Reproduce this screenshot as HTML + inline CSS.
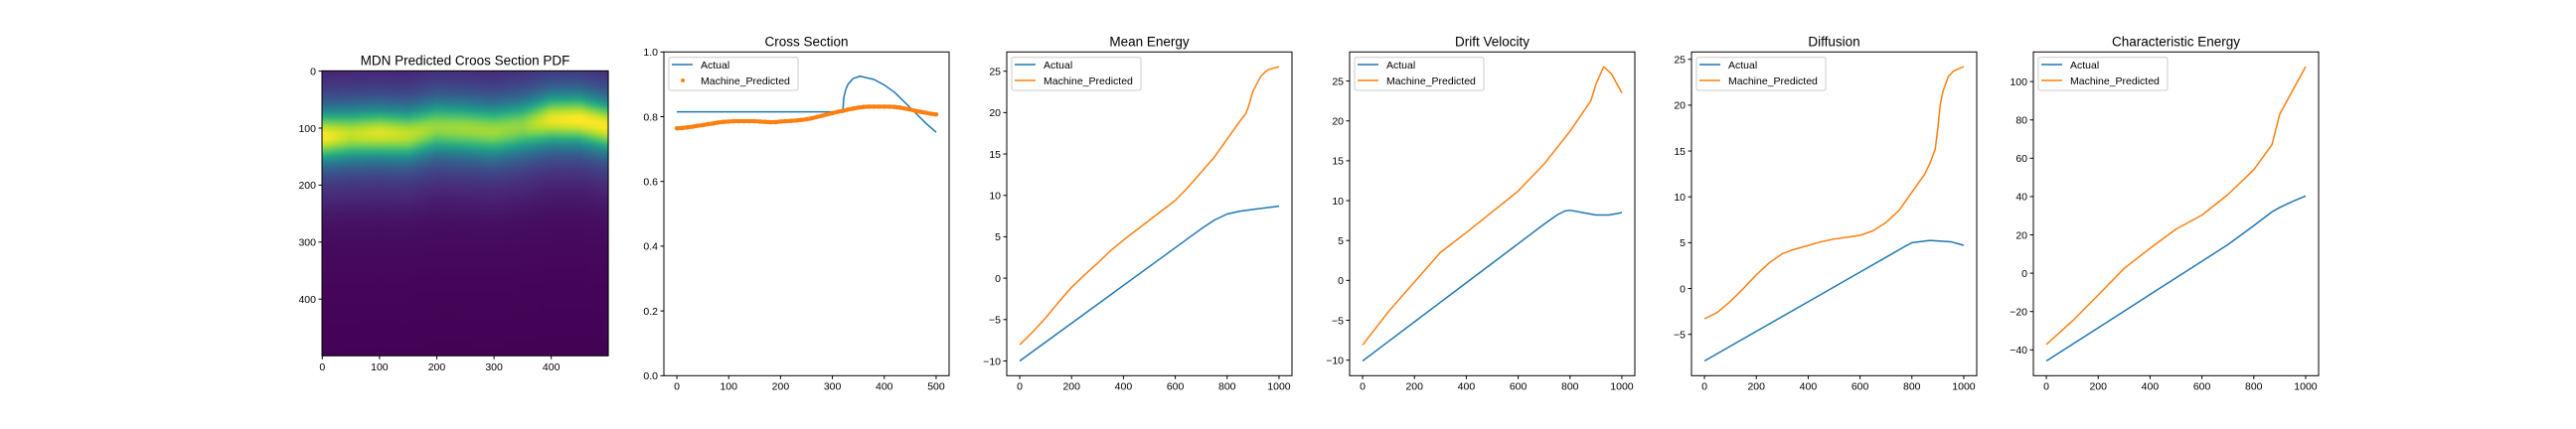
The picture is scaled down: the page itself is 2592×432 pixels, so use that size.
<!DOCTYPE html>
<html><head><meta charset="utf-8"><style>
html,body{margin:0;padding:0;background:#fff;}
svg{display:block;}
text{font-family:"Liberation Sans","DejaVu Sans",sans-serif;fill:#000;}
</style></head>
<body>
<svg id="fig" width="2592" height="432" viewBox="0 0 2592 432" xmlns="http://www.w3.org/2000/svg">
<defs id="defs"></defs>
</svg>
<script>
// ---------- heatmap data ----------
const hmCols = [0,50,100,150,200,250,300,350,400,450,500];
const hmCenters = [115,112,110,112,100,102,106,98,86,86,98];
const hmAmps = [1.0,0.86,0.92,0.86,0.76,0.78,0.78,0.74,0.95,1.0,0.98];

// ---------- cross section ----------
const csActualX = [0,320,322,326,330,340,353,380,400,420,450,480,500];
const csActualY = [0.815,0.815,0.86,0.885,0.9,0.918,0.925,0.915,0.898,0.875,0.828,0.78,0.752];
const csPredX = [0,10,20,30,40,50,60,70,80,90,100,110,120,130,140,150,160,170,180,190,200,210,220,230,240,250,260,270,280,290,300,310,320,330,340,350,360,370,380,390,400,410,420,430,440,450,460,470,480,490,500];
const csPredY = [0.764,0.765,0.767,0.769,0.772,0.774,0.777,0.779,0.782,0.784,0.785,0.786,0.786,0.786,0.786,0.786,0.785,0.784,0.783,0.783,0.785,0.786,0.787,0.788,0.79,0.792,0.795,0.799,0.803,0.807,0.811,0.815,0.818,0.822,0.825,0.828,0.83,0.831,0.831,0.831,0.831,0.831,0.83,0.828,0.825,0.822,0.818,0.815,0.812,0.809,0.807];

// ---------- mean energy ----------
const meX = [0,50,100,150,200,250,300,350,400,450,500,550,600,650,700,750,800,850,900,950,1000];
const meActual = [-10,-8.86,-7.72,-6.58,-5.44,-4.3,-3.16,-2.02,-0.88,0.26,1.4,2.54,3.68,4.82,5.96,7.0,7.75,8.1,8.3,8.5,8.7];
const mePredX = [0,50,100,150,200,250,300,350,400,450,500,550,600,650,700,750,800,850,870,880,900,920,930,950,960,1000];
const mePred = [-8.04,-6.5,-4.8,-2.9,-1.1,0.4,1.8,3.3,4.6,5.8,7.0,8.2,9.4,11.0,12.8,14.6,16.8,19.0,19.8,20.5,22.6,23.8,24.4,25.0,25.2,25.55];

// ---------- drift velocity ----------
const dvX = [0,100,200,300,400,500,600,700,750,780,800,850,900,950,1000];
const dvActual = [-10.1,-7.65,-5.2,-2.75,-0.3,2.15,4.6,7.05,8.2,8.7,8.8,8.5,8.2,8.2,8.5];
const dvPredX = [0,100,200,300,400,500,600,700,800,880,900,930,960,1000];
const dvPred = [-8.1,-3.9,-0.2,3.5,6.0,8.6,11.2,14.6,18.7,22.5,24.6,26.8,25.9,23.5];

// ---------- diffusion ----------
const dfX = [0,200,400,600,780,800,870,950,1000];
const dfActual = [-7.9,-4.67,-1.44,1.79,4.7,5.0,5.25,5.1,4.72];
const dfPredX = [0,50,100,150,200,250,300,350,400,450,500,550,600,650,700,750,800,850,870,890,900,910,920,940,960,1000];
const dfPred = [-3.3,-2.6,-1.4,0,1.5,2.8,3.8,4.3,4.7,5.1,5.4,5.6,5.8,6.3,7.2,8.5,10.5,12.5,13.7,15.2,17.5,20.2,21.5,23.1,23.7,24.2];

// ---------- characteristic energy ----------
const ceX = [0,200,400,600,700,800,870,900,950,1000];
const ceActual = [-45.8,-28.5,-11.1,6.2,14.9,24.8,32,34.3,37.5,40.3];
const cePredX = [0,100,200,300,400,500,600,700,800,870,900,950,1000];
const cePred = [-37.2,-25,-11.4,2.5,13,23,30.3,41,54,67,83,95.4,107.8];

const yTicksCS = [0,0.2,0.4,0.6,0.8,1.0];
const yLabelsCS = ["0.0","0.2","0.4","0.6","0.8","1.0"];
const xTicksCS = [0,100,200,300,400,500];
const xTicksK = [0,200,400,600,800,1000];
const yTicksME = [-10,-5,0,5,10,15,20,25];
const yTicksDV = [-10,-5,0,5,10,15,20,25];
const yTicksDF = [-5,0,5,10,15,20,25];
const yTicksCE = [-40,-20,0,20,40,60,80,100];
const hmTicks = [0,100,200,300,400];

const NS = "http://www.w3.org/2000/svg";
const svg = document.getElementById('fig');
const defs = document.getElementById('defs');
function el(tag, attrs, parent){
  const e = document.createElementNS(NS, tag);
  for (const k in attrs) e.setAttribute(k, attrs[k]);
  (parent||svg).appendChild(e);
  return e;
}
function fmt(v){ return (v<0?"\u2212":"")+Math.abs(v); }
function txt(parent, x, y, s, size, anchor){
  const t = el('text', {x:x, y:y, 'font-size':size, 'text-anchor':anchor}, parent);
  t.textContent = s;
  return t;
}
const TOP=52.3, BOT=378.3, W=287;
const TICK=10.5;

function axes(g, L, xmin, xmax, ymin, ymax, xt, yt, ylabels, title){
  const sx = v => L + (v-xmin)/(xmax-xmin)*W;
  const sy = v => BOT - (v-ymin)/(ymax-ymin)*(BOT-TOP);
  xt.forEach(v=>{
    const tk = el('line',{x1:sx(v),x2:sx(v),y1:BOT,y2:BOT+3.5,stroke:'#000','stroke-width':1},g);
    
    
    const t = txt(g, sx(v), 392.5, fmt(v), TICK, 'middle');
    
    
  });
  yt.forEach((v,i)=>{
    const tk = el('line',{x1:L-3.5,x2:L,y1:sy(v),y2:sy(v),stroke:'#000','stroke-width':1},g);
    
    
    const t = txt(g, L-6, sy(v)+3.8, ylabels?ylabels[i]:fmt(v), TICK, 'end');
    
    
  });
  const tt = txt(g, L+W/2, 46.5, title, 13.5, 'middle');
  
  
  return {sx, sy};
}
function frame(g, L){
  const r = el('rect',{x:L,y:TOP,width:W,height:BOT-TOP,fill:'none',stroke:'#000','stroke-width':1},g);
  
  
}
function line(g, xs, ys, s, color, name){
  const p = el('polyline',{points:xs.map((x,i)=>s.sx(x).toFixed(2)+','+s.sy(ys[i]).toFixed(2)).join(' '),
    fill:'none',stroke:color,'stroke-width':1.5,'stroke-linejoin':'round'},g);
  
  
}
function legend(g, L, dots){
  const lg = el('g',{},g);
  
  
  el('rect',{x:L+5,y:57.7,width:130,height:33.3,rx:2,fill:'#fff','fill-opacity':0.8,stroke:'#ccc','stroke-width':1},lg);
  el('line',{x1:L+8,x2:L+29,y1:65,y2:65,stroke:'#1f77b4','stroke-width':1.5},lg);
  if (dots) el('circle',{cx:L+19,cy:81,r:2,fill:'#ff7f0e'},lg);
  else el('line',{x1:L+8,x2:L+29,y1:81,y2:81,stroke:'#ff7f0e','stroke-width':1.5},lg);
  const a = txt(lg, L+37, 68.8, 'Actual', 10.5, 'start');
  
  
  const b = txt(lg, L+37, 84.8, 'Machine_Predicted', 10.5, 'start');
  
  
}
function pad(arrs){
  let mn=Infinity,mx=-Infinity;
  arrs.forEach(a=>a.forEach(v=>{mn=Math.min(mn,v);mx=Math.max(mx,v);}));
  const m=(mx-mn)*0.05; return [mn-m,mx+m];
}
function panel(L, name, title, ax, ay, px, py, yt){
  const g = el('g',{});
  
  
  const [ymin,ymax] = pad([ay,py]);
  const s = axes(g, L, -50, 1050, ymin, ymax, xTicksK, yt, null, title);
  line(g, ax, ay, s, '#1f77b4', 'actual-line');
  line(g, px, py, s, '#ff7f0e', 'predicted-line');
  frame(g, L);
  legend(g, L, false);
}

// ---------- heatmap ----------
(function(){
  const L=324, T=71.3, HW=288, HH=287;
  const g = el('g',{});
  
  
  const vir = [[68,1,84],[72,40,120],[62,74,137],[49,104,142],[38,130,142],[31,158,137],[53,183,121],[110,206,88],[181,222,43],[253,231,37]];
  function cmap(t){
    t=Math.max(0,Math.min(1,t))*(vir.length-1);
    const i=Math.min(vir.length-2,Math.floor(t)), f=t-i;
    const c=vir[i].map((v,k)=>Math.round(v+(vir[i+1][k]-v)*f));
    return `rgb(${c[0]},${c[1]},${c[2]})`;
  }
  function lerp(xs, ys, x){
    for(let i=0;i<xs.length-1;i++) if(x<=xs[i+1]){const f=(x-xs[i])/(xs[i+1]-xs[i]);return ys[i]+(ys[i+1]-ys[i])*f;}
    return ys[ys.length-1];
  }
  const step=5;
  for(let x=0;x<500;x+=step){
    const c=lerp(hmCols,hmCenters,x+step/2), a=lerp(hmCols,hmAmps,x+step/2);
    const id='hg'+x;
    const lg=el('linearGradient',{id:id,x1:0,y1:0,x2:0,y2:1},defs);
    for(let y=0;y<=500;y+=10){
      const d=y-c;
      const v=a*0.68*Math.exp(-d*d/(2*28*28))+0.28*Math.exp(-d*d/(2*66*66))+0.05*Math.exp(-d*d/(2*170*170));
      el('stop',{offset:(y/500).toFixed(3),'stop-color':cmap(v)},lg);
    }
    const r=el('rect',{x:(L+x/500*HW).toFixed(2),y:T,width:(step/500*HW+0.6).toFixed(2),height:HH,fill:`url(#${id})`},g);
    
    
  }
  const fr=el('rect',{x:L,y:T,width:HW,height:HH,fill:'none',stroke:'#000','stroke-width':1},g);
  
  
  const sx=v=>L+(v+0.5)/500*HW, sy=v=>T+(v+0.5)/500*HH;
  hmTicks.forEach(v=>{
    el('line',{x1:sx(v),x2:sx(v),y1:T+HH,y2:T+HH+3.5,stroke:'#000'},g);
    const t=txt(g,sx(v),T+HH+14.5,String(v),TICK,'middle');
    
    
    el('line',{x1:L-3.5,x2:L,y1:sy(v),y2:sy(v),stroke:'#000'},g);
    const u=txt(g,L-6,sy(v)+3.8,String(v),TICK,'end');
    
    
  });
  const tt=txt(g,L+HW/2,65.3,'MDN Predicted Croos Section PDF',13.5,'middle');
  
  
})();

// ---------- cross section ----------
(function(){
  const L=668;
  const g=el('g',{});
  
  
  const s=axes(g,L,-25,525,0,1,xTicksCS,yTicksCS,yLabelsCS,'Cross Section');
  line(g,csActualX,csActualY,s,'#1f77b4','actual-line');
  const pl=el('polyline',{points:csPredX.map((x,i)=>s.sx(x).toFixed(2)+','+s.sy(csPredY[i]).toFixed(2)).join(' '),
    fill:'none',stroke:'#ff7f0e','stroke-width':4,'stroke-linecap':'round','stroke-linejoin':'round'},g);
  
  
  csPredX.forEach((x,i)=>{
    const c=el('circle',{cx:s.sx(x),cy:s.sy(csPredY[i]),r:2.2,fill:'#ff7f0e'},g);
    
    
  });
  frame(g,L);
  legend(g,L,true);
})();

panel(1013,'mean-energy-panel','Mean Energy',meX,meActual,mePredX,mePred,yTicksME);
panel(1358,'drift-velocity-panel','Drift Velocity',dvX,dvActual,dvPredX,dvPred,yTicksDV);
panel(1702,'diffusion-panel','Diffusion',dfX,dfActual,dfPredX,dfPred,yTicksDF);
panel(2046,'characteristic-energy-panel','Characteristic Energy',ceX,ceActual,cePredX,cePred,yTicksCE);
</script>
</body></html>
